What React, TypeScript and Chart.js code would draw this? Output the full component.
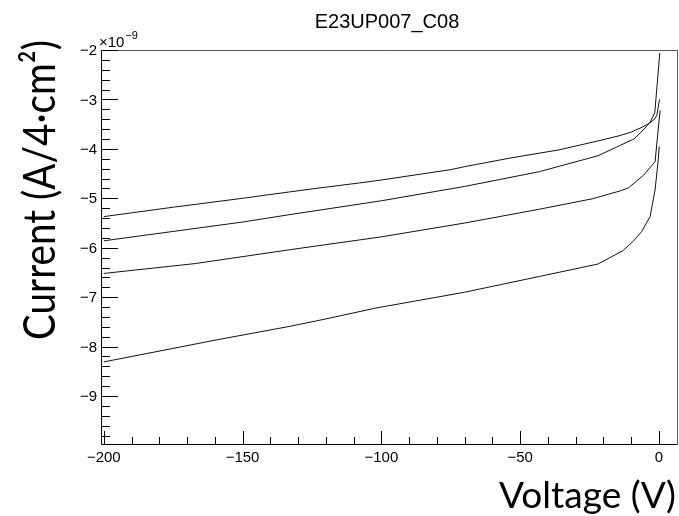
import React, { useEffect, useRef } from 'react';
import { Chart, registerables } from 'chart.js';

Chart.register(...registerables);

// ---- text ----
const CHART_TITLE = 'E23UP007_C08';
const X_TITLE = 'Voltage (V)';
const Y_TITLE = 'Current (A/4·cm²)';
const Y_EXPONENT_BASE = '×10';
const Y_EXPONENT = '−9';

// ---- axis ranges (current in units of 1e-9 A) ----
const X_MIN = -201;
const X_MAX = 6.5;
const Y_MIN = -9.97;
const Y_MAX = -2;

// ---- tick labels ----
const xMajorTicks = [-200, -150, -100, -50, 0];
const xTickLabels = ['−200', '−150', '−100', '−50', '0'];
const yMajorTicks = [-2, -3, -4, -5, -6, -7, -8, -9];
const yTickLabels = ['−2', '−3', '−4', '−5', '−6', '−7', '−8', '−9'];

// ---- series (voltage in V, current in 1e-9 A) ----
const voltage1 = [-200, -175, -150, -133, -125, -108, -100, -75, -70, -54, -36, -22, -14, -10, -6, -4, -2, -0.8, 0.2];
const current1 = [-5.37, -5.18, -5.0, -4.87, -4.81, -4.69, -4.63, -4.42, -4.36, -4.19, -4.02, -3.84, -3.73, -3.66, -3.56, -3.5, -3.42, -3.33, -3.0];

const voltage2 = [-200, -175, -150, -133, -100, -70, -43, -22, -14, -9, -5, -3, -1.5, 0.3];
const current2 = [-5.86, -5.67, -5.48, -5.33, -5.05, -4.76, -4.46, -4.14, -3.93, -3.8, -3.58, -3.44, -3.27, -2.06];

const voltage3 = [-200, -167, -133, -100, -70, -43, -24, -14, -11, -5.5, -1.4, 0.4];
const current3 = [-6.52, -6.32, -6.04, -5.78, -5.5, -5.22, -5.01, -4.85, -4.79, -4.53, -4.26, -3.22];

const voltage4 = [-200, -159, -133, -120, -102, -70, -43, -22, -13, -9.3, -6.2, -3.2, -1.4, -0.25, 0.1];
const current4 = [-8.31, -7.86, -7.59, -7.44, -7.22, -6.9, -6.58, -6.33, -6.06, -5.87, -5.67, -5.37, -4.83, -4.22, -3.95];

const toPoints = (xs: number[], ys: number[]) => xs.map((x, i) => ({ x, y: ys[i] }));

const rootAxesPlugin = {
  id: 'rootAxes',
  afterDraw(chart: any) {
    const { ctx, chartArea } = chart;
    const { left, right, top, bottom } = chartArea;
    const xs = chart.scales.x;
    const ys = chart.scales.y;
    const px = (v: number) => Math.round(v) + 0.5;

    ctx.save();
    // frame
    ctx.lineWidth = 1;
    ctx.strokeStyle = '#000';
    ctx.beginPath();
    ctx.moveTo(px(left), px(top));
    ctx.lineTo(px(left), px(bottom));
    ctx.lineTo(px(right), px(bottom));
    ctx.stroke();
    ctx.strokeStyle = '#555';
    ctx.beginPath();
    ctx.moveTo(px(left), px(top));
    ctx.lineTo(px(right), px(top));
    ctx.lineTo(px(right), px(bottom));
    ctx.stroke();

    // x ticks (inward)
    ctx.strokeStyle = '#000';
    ctx.beginPath();
    for (let v = -200; v <= 0; v += 10) {
      const major = v % 50 === 0;
      const xp = px(xs.getPixelForValue(v));
      ctx.moveTo(xp, bottom);
      ctx.lineTo(xp, bottom - (major ? 13 : 7));
    }
    // y ticks (inward)
    for (let k = -49; k <= -10; k++) {
      const v = k / 5;
      const major = k % 5 === 0;
      const yp = px(ys.getPixelForValue(v));
      ctx.moveTo(left, yp);
      ctx.lineTo(left + (major ? 17 : 9), yp);
    }
    ctx.stroke();

    // tick labels
    ctx.fillStyle = '#000';
    ctx.font = '15px "Liberation Sans", Arial, sans-serif';
    ctx.textAlign = 'center';
    ctx.textBaseline = 'alphabetic';
    xMajorTicks.forEach((v, i) => {
      ctx.fillText(xTickLabels[i], xs.getPixelForValue(v), bottom + 18);
    });
    ctx.textAlign = 'right';
    ctx.textBaseline = 'middle';
    yMajorTicks.forEach((v, i) => {
      ctx.fillText(yTickLabels[i], left - 4, ys.getPixelForValue(v) + 1);
    });

    // exponent
    ctx.textAlign = 'left';
    ctx.textBaseline = 'alphabetic';
    ctx.font = '15px "Liberation Sans", Arial, sans-serif';
    ctx.fillText(Y_EXPONENT_BASE, left - 2, top - 3);
    const wBase = ctx.measureText(Y_EXPONENT_BASE).width;
    ctx.font = '11px "Liberation Sans", Arial, sans-serif';
    ctx.fillText(Y_EXPONENT, left - 2 + wBase + 1, top - 11);

    // chart title
    ctx.font = '20px "Liberation Sans", Arial, sans-serif';
    ctx.textAlign = 'center';
    ctx.fillText(CHART_TITLE, 387, 28);

    // x title (fit width)
    ctx.font = '36px Lato, "Open Sans", sans-serif';
    let w = ctx.measureText(X_TITLE).width;
    const fx = 36 * 177 / w;
    ctx.font = `${fx}px Lato, "Open Sans", sans-serif`;
    ctx.textAlign = 'right';
    ctx.fillText(X_TITLE, 676, 508);

    // y title (rotated)
    ctx.font = '44px Lato, "Open Sans", sans-serif';
    w = ctx.measureText(Y_TITLE).width;
    ctx.translate(55, 340);
    ctx.rotate(-Math.PI / 2);
    ctx.scale(300 / w, 1);
    ctx.textAlign = 'left';
    ctx.fillText(Y_TITLE, 0, 0);
    ctx.restore();
  },
};

export default function App() {
  const canvasRef = useRef<HTMLCanvasElement | null>(null);

  useEffect(() => {
    if (!canvasRef.current) return;
    const lineStyle = {
      showLine: true,
      borderColor: '#111',
      borderWidth: 1,
      pointRadius: 0,
      fill: false,
      tension: 0,
    };
    const chart = new Chart(canvasRef.current, {
      type: 'scatter',
      data: {
        datasets: [
          { label: 'IV 1', data: toPoints(voltage1, current1), ...lineStyle },
          { label: 'IV 2', data: toPoints(voltage2, current2), ...lineStyle },
          { label: 'IV 3', data: toPoints(voltage3, current3), ...lineStyle },
          { label: 'IV 4', data: toPoints(voltage4, current4), ...lineStyle },
        ],
      },
      options: {
        animation: false,
        responsive: true,
        maintainAspectRatio: false,
        layout: { padding: { left: 101, right: 2, top: 50, bottom: 72 } },
        plugins: { legend: { display: false }, tooltip: { enabled: false }, title: { display: false } },
        scales: {
          x: { type: 'linear', min: X_MIN, max: X_MAX, display: false },
          y: { type: 'linear', min: Y_MIN, max: Y_MAX, display: false },
        },
      },
      plugins: [rootAxesPlugin],
    } as any);
    return () => chart.destroy();
  }, []);

  return (
    <div style={{ position: 'absolute', left: 0, top: 0, width: 679, height: 516, background: '#fff' }}>
      <canvas ref={canvasRef} />
    </div>
  );
}
